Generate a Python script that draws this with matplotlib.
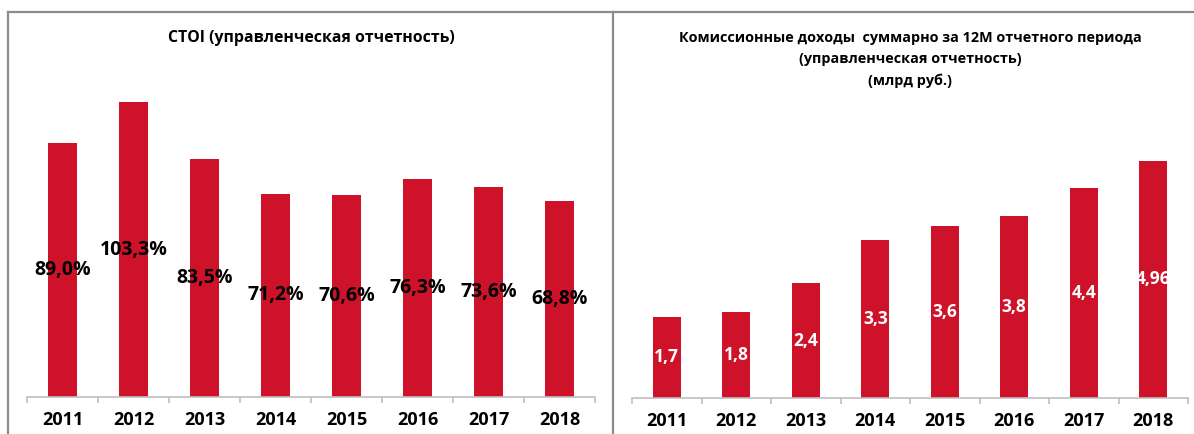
import matplotlib
matplotlib.use("Agg")
import matplotlib.pyplot as plt
from matplotlib.lines import Line2D

years = ["2011", "2012", "2013", "2014", "2015", "2016", "2017", "2018"]
ctoi = [89.0, 103.3, 83.5, 71.2, 70.6, 76.3, 73.6, 68.8]
ctoi_labels = ["89,0%", "103,3%", "83,5%", "71,2%", "70,6%", "76,3%", "73,6%", "68,8%"]
fees = [1.7, 1.8, 2.4, 3.3, 3.6, 3.8, 4.4, 4.96]
fees_labels = ["1,7", "1,8", "2,4", "3,3", "3,6", "3,8", "4,4", "4,96"]

left_title = "СТОI (управленческая отчетность)"
right_title = ["Комиссионные доходы  суммарно за 12М отчетного периода",
               "(управленческая отчетность)",
               "(млрд руб.)"]

plt.rcParams['font.family'] = ['Open Sans', 'DejaVu Sans']
bar_color = '#cd1229'
axis_color = '#bfbfbf'
frame_color = '#8c8c8c'

W, H = 1194, 434
fig = plt.figure(figsize=(W / 100, H / 100), dpi=100)


def px_axes(x0, x1, y_base, y_top):
    # axes rectangle given in pixel coordinates of the image
    return fig.add_axes([x0 / W, (H - y_base) / H, (x1 - x0) / W, (y_base - y_top) / H])


def style_axis(ax):
    for side in ['top', 'right', 'left']:
        ax.spines[side].set_visible(False)
    ax.spines['bottom'].set_color(axis_color)
    ax.spines['bottom'].set_linewidth(1.2)
    ax.set_yticks([])
    ax.set_xlim(-0.5, len(years) - 0.5)
    ax.set_xticks(range(len(years)))
    ax.set_xticklabels(years, fontsize=13, fontweight='bold')
    ax.tick_params(axis='x', which='major', length=0, pad=10)
    ax.set_xticks([i - 0.5 for i in range(len(years) + 1)], minor=True)
    ax.tick_params(axis='x', which='minor', length=4, width=1.2, color=axis_color)
    ax.patch.set_alpha(0)


# left chart
ax1 = px_axes(27, 595, 397, 60)
ax1.bar(range(len(years)), ctoi, width=0.41, color=bar_color)
ax1.set_ylim(0, 337 / 2.855)
style_axis(ax1)
for i, v in enumerate(ctoi):
    ax1.text(i, v / 2, ctoi_labels[i], ha='center', va='center',
             fontsize=14, fontweight='bold', color='black')

# right chart
ax2 = px_axes(632, 1188, 398, 111)
ax2.bar(range(len(years)), fees, width=0.40, color=bar_color)
ax2.set_ylim(0, 6.0)
style_axis(ax2)
for i, v in enumerate(fees):
    ax2.text(i, v / 2, fees_labels[i], ha='center', va='center',
             fontsize=12.5, fontweight='bold', color='white')

# titles
fig.text(311 / W, 1 - 38 / H, left_title, ha='center', va='center',
         fontsize=11.4, fontweight='bold')
for k, line in enumerate(right_title):
    fig.text(910 / W, 1 - (38 + 21.5 * k) / H, line, ha='center', va='center',
             fontsize=10.4, fontweight='bold')

# panel frames
fig.add_artist(Line2D([8 / W, 1], [1 - 12 / H, 1 - 12 / H], color=frame_color, lw=1.6))
fig.add_artist(Line2D([8 / W, 8 / W], [0, 1 - 12 / H], color=frame_color, lw=1.6))
fig.add_artist(Line2D([613 / W, 613 / W], [0, 1 - 12 / H], color=frame_color, lw=1.6))

fig.savefig("out.png", dpi=100)
